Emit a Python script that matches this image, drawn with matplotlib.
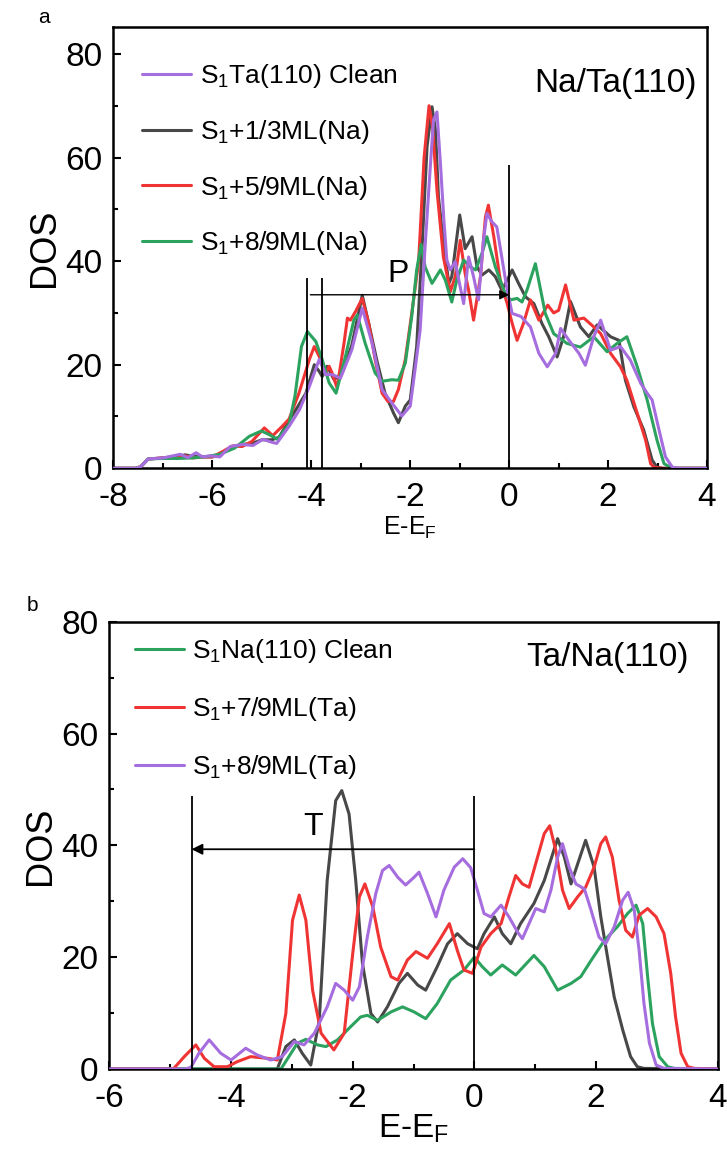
import matplotlib
matplotlib.use("Agg")
import matplotlib.pyplot as plt
from matplotlib.ticker import MultipleLocator

plt.rcParams["font.family"] = ["Liberation Sans", "DejaVu Sans"]
plt.rcParams["mathtext.fontset"] = "custom"
plt.rcParams["mathtext.rm"] = "Liberation Sans"
plt.rcParams["mathtext.it"] = "Liberation Sans:italic"
plt.rcParams["mathtext.default"] = "regular"
plt.rcParams["axes.unicode_minus"] = False

PURPLE = "#a66ddf"
GRAY = "#484848"
RED = "#f03434"
GREEN = "#2ca25f"

# ---- panel a: Na/Ta(110) ----
a_clean_x = [-8, -7.55, -7.45, -7.3, -7.0, -6.65, -6.5, -6.33, -6.2, -6.05, -5.85, -5.64, -5.39,
             -5.18, -4.98, -4.79, -4.70, -4.45, -4.24, -4.04, -3.84, -3.71, -3.58, -3.41, -3.18,
             -2.97, -2.77, -2.57, -2.37, -2.17, -2.0, -1.93, -1.80, -1.70, -1.59, -1.53, -1.46,
             -1.39, -1.32, -1.26, -1.19, -1.09, -0.99, -0.92, -0.82, -0.72, -0.62, -0.52, -0.45,
             -0.35, -0.25, -0.15, -0.04, 0.06, 0.24, 0.43, 0.60, 0.77, 0.94, 1.04, 1.21, 1.41,
             1.54, 1.71, 1.85, 2.05, 2.25, 2.45, 2.66, 2.79, 2.89, 3.03, 3.16, 3.30, 3.45, 4.0]
a_clean_y = [0, 0, 0.3, 1.8, 2.0, 2.7, 2.05, 3.0, 2.2, 2.4, 2.2, 4.2, 4.6, 4.4, 5.6, 5.0, 4.8,
             8.1, 11.3, 15.8, 21, 18.1, 18.1, 17.4, 22.9, 30.9, 24.1, 15.2, 12.6, 10.1, 12, 17.1,
             26.7, 42.8, 58.9, 67.2, 68.8, 58.9, 47.9, 40.2, 38.3, 39.9, 35, 31.8, 40.8, 37, 32.5,
             44, 49.2, 47.6, 46.6, 40.8, 34.4, 29.9, 29.3, 27.3, 22.2, 19.6, 22.2, 27, 24.7, 22.2,
             19.9, 25.4, 28.6, 22.8, 23.5, 20.9, 16.4, 14.5, 13.2, 7.4, 2.2, 0.2, 0, 0]

a_13_x = [-8, -7.55, -7.45, -7.3, -7.0, -6.7, -6.55, -6.4, -6.2, -6.0, -5.8, -5.6, -5.4, -5.2,
          -5.0, -4.8, -4.65, -4.5, -4.3, -4.11, -3.94, -3.84, -3.78, -3.68, -3.54, -3.38, -3.18,
          -2.97, -2.81, -2.67, -2.51, -2.34, -2.24, -2.10, -2.0, -1.87, -1.76, -1.66, -1.56,
          -1.49, -1.43, -1.32, -1.22, -1.16, -1.0, -0.89, -0.75, -0.65, -0.55, -0.41, -0.28,
          -0.15, -0.04, 0.06, 0.19, 0.33, 0.50, 0.66, 0.80, 0.97, 1.10, 1.24, 1.44, 1.61, 1.78,
          2.05, 2.22, 2.35, 2.52, 2.72, 2.89, 2.99, 3.1, 4.0]
a_13_y = [0, 0, 0.3, 1.8, 2.0, 2.3, 2.6, 2.3, 2.2, 2.2, 2.9, 4.2, 4.6, 4.8, 5.5, 5.5, 6.0, 8.5,
          11.5, 14.5, 20, 18.7, 17.7, 19.7, 17.1, 18.4, 23.8, 33.4, 26.7, 20.6, 14.5, 10.7, 8.8,
          12, 13.2, 23.5, 42.8, 62.1, 69.8, 65.3, 52.4, 42.8, 35.7, 37, 48.9, 42.4, 44.7, 38.9,
          37.3, 38.3, 37, 34.4, 36.3, 38.3, 35.7, 33.1, 31.8, 28, 25.4, 21.5, 25.4, 32.2, 27.3,
          25.4, 27.7, 25.4, 24.7, 17, 11.9, 7.4, 1.6, 0.2, 0, 0]

a_59_x = [-8, -7.55, -7.45, -7.3, -7.0, -6.7, -6.55, -6.4, -6.2, -6.0, -5.8, -5.6, -5.4, -5.2,
          -4.95, -4.78, -4.6, -4.45, -4.25, -4.04, -3.94, -3.81, -3.71, -3.64, -3.58, -3.48,
          -3.34, -3.27, -3.21, -3.11, -2.97, -2.84, -2.71, -2.57, -2.45, -2.34, -2.24, -2.10,
          -1.97, -1.83, -1.72, -1.62, -1.55, -1.46, -1.33, -1.19, -1.09, -0.99, -0.89, -0.82,
          -0.72, -0.58, -0.48, -0.42, -0.31, -0.18, -0.04, 0.06, 0.16, 0.29, 0.43, 0.6, 0.78,
          0.9, 1.0, 1.14, 1.31, 1.51, 1.71, 1.85, 2.05, 2.25, 2.38, 2.59, 2.76, 2.86, 2.93, 3.1,
          4.0]
a_59_y = [0, 0, 0.3, 1.8, 2.0, 2.0, 2.4, 2.0, 2.2, 2.2, 3.2, 4.3, 4.2, 5.2, 7.8, 6.3, 8.0, 9.5,
          14.5, 21, 23.5, 21, 18.4, 19.7, 18.4, 15.5, 24.1, 29, 28.6, 30.2, 32.8, 28, 21, 14.5,
          12.9, 12.9, 15.2, 21, 29.9, 40, 60, 70, 66, 53.7, 40.8, 34.1, 37, 44, 37.6, 34.4, 28.6,
          37, 48.5, 50.8, 44.7, 36.3, 31.8, 28, 24.7, 28, 32.5, 28.6, 31.5, 30, 30.5, 35.4, 28.6,
          29, 27.3, 26, 22.2, 19.6, 17, 10.6, 5.4, 0.9, 0.2, 0, 0]

a_89_x = [-8, -7.55, -7.45, -7.3, -7.0, -6.7, -6.4, -6.1, -5.85, -5.55, -5.25, -5.01, -4.85,
          -4.69, -4.45, -4.33, -4.20, -4.08, -3.91, -3.78, -3.64, -3.50, -3.31, -3.14, -3.07,
          -2.91, -2.71, -2.57, -2.37, -2.24, -2.10, -1.97, -1.87, -1.78, -1.70, -1.56, -1.39,
          -1.29, -1.16, -1.06, -0.92, -0.79, -0.68, -0.55, -0.45, -0.28, -0.11, 0.02, 0.16,
          0.26, 0.36, 0.53, 0.73, 0.90, 1.17, 1.44, 1.71, 1.98, 2.18, 2.38, 2.59, 2.79, 2.99,
          3.13, 3.26, 3.4, 4.0]
a_89_y = [0, 0, 0.3, 1.8, 1.9, 1.9, 2.0, 2.3, 2.7, 3.9, 6.2, 7.2, 6.5, 5.6, 8.5, 14, 23.5, 26.4,
          24.5, 21, 16.5, 14.5, 21.6, 28.6, 29.6, 24.1, 18.4, 16.8, 17.1, 17, 20.3, 29.3, 38.3,
          43.2, 38.9, 35.7, 38.3, 36.3, 32.1, 36.3, 40.2, 38.9, 38.3, 41.5, 44.7, 38.9, 34.4,
          32.5, 32.8, 32.1, 34.4, 39.5, 29.9, 26, 24.1, 23.4, 25.4, 22.5, 24.1, 25.4, 19.6, 13.2,
          5.4, 0.9, 0.2, 0, 0]

# ---- panel b: Ta/Na(110) ----
b_clean_x = [-6, -3.18, -3.05, -2.91, -2.77, -2.58, -2.44, -2.25, -2.03, -1.87, -1.76, -1.59,
             -1.37, -1.18, -0.99, -0.80, -0.61, -0.39, -0.17, 0.0, 0.13, 0.27, 0.46, 0.68, 0.98,
             1.15, 1.37, 1.59, 1.75, 1.92, 2.14, 2.35, 2.52, 2.66, 2.77, 2.85, 2.93, 3.04, 3.18,
             3.29, 4.0]
b_clean_y = [0, 0, 2.2, 4.6, 5.3, 4.3, 4.0, 5.2, 7.6, 9.3, 9.6, 8.7, 10.2, 11.1, 10.2, 9.0, 11.7,
             15.9, 17.7, 20, 18.3, 16.8, 18.6, 16.8, 20.3, 18.3, 14.1, 15.3, 16.5, 19.4, 23, 25.4,
             27.8, 29.3, 26, 16.5, 8.1, 2.2, 0.4, 0.1, 0]

b_79_x = [-6, -4.95, -4.77, -4.58, -4.44, -4.28, -4.06, -3.90, -3.68, -3.40, -3.24, -3.10, -2.99,
          -2.88, -2.77, -2.66, -2.52, -2.31, -2.14, -2.00, -1.89, -1.80, -1.67, -1.54, -1.37,
          -1.26, -1.10, -0.96, -0.77, -0.61, -0.41, -0.28, -0.17, -0.03, 0.11, 0.27, 0.44, 0.57,
          0.68, 0.79, 0.90, 1.04, 1.15, 1.24, 1.34, 1.45, 1.56, 1.70, 1.83, 1.97, 2.08, 2.16,
          2.27, 2.38, 2.49, 2.60, 2.71, 2.85, 2.99, 3.12, 3.23, 3.31, 3.40, 3.51, 3.62, 4.0]
b_79_y = [0, 0, 2.2, 4.3, 1.9, 0.4, 0.4, 1.3, 2.2, 1.9, 1.6, 9.9, 26.6, 31.1, 26.6, 14.1, 6.4,
          3.4, 6.4, 20.6, 30.8, 33.1, 29, 21.8, 16.5, 15.9, 19.5, 21, 19.8, 22.4, 26, 21.2, 17.7,
          17.1, 21.8, 24.2, 26, 30.8, 34.6, 33.1, 32.5, 37.9, 42.1, 43.5, 39.1, 32, 28.7, 30.8,
          32.5, 36.1, 40.3, 41.5, 37.9, 30.2, 24.8, 23.6, 27.5, 28.7, 27.2, 24.2, 17.1, 9.3, 2.8,
          0.4, 0.1, 0]

b_89_x = [-6, -4.75, -4.66, -4.53, -4.36, -4.17, -4.0, -3.76, -3.57, -3.35, -3.16, -2.96, -2.80,
          -2.63, -2.42, -2.28, -2.14, -2.0, -1.89, -1.76, -1.62, -1.51, -1.40, -1.26, -1.13,
          -0.99, -0.91, -0.77, -0.63, -0.50, -0.33, -0.19, -0.06, 0.05, 0.16, 0.27, 0.44, 0.57,
          0.71, 0.79, 0.90, 1.01, 1.15, 1.26, 1.37, 1.45, 1.56, 1.67, 1.81, 1.92, 2.05, 2.16,
          2.30, 2.44, 2.53, 2.63, 2.71, 2.79, 2.88, 2.99, 3.12, 4.0]
b_89_y = [0, 0, 0.3, 2.8, 5.2, 2.8, 1.6, 3.7, 2.5, 1.6, 2.2, 4.9, 4.3, 6.4, 11.1, 15.3, 14.1,
          12.3, 14.7, 23.6, 31.4, 35.5, 36.4, 34.3, 32.9, 34.3, 35.2, 31.4, 27.2, 32, 36.1, 37.6,
          36.0, 32, 27.8, 27.2, 29.3, 27.2, 24.5, 23.3, 26, 28.7, 28.1, 32, 37.9, 40.3, 36.1,
          33.1, 32.2, 28.4, 23.6, 22.4, 25.4, 30.2, 31.6, 28.4, 21.2, 11.7, 4.6, 0.7, 0.1, 0]

b_dark_x = [-6, -3.24, -3.10, -2.96, -2.83, -2.69, -2.55, -2.42, -2.28, -2.18, -2.06, -1.95,
            -1.84, -1.70, -1.59, -1.43, -1.24, -1.10, -0.93, -0.80, -0.61, -0.44, -0.28, -0.11,
            0.05, 0.16, 0.33, 0.46, 0.60, 0.76, 0.98, 1.15, 1.29, 1.37, 1.48, 1.59, 1.70, 1.83,
            1.97, 2.08, 2.19, 2.30, 2.44, 2.57, 2.68, 2.79, 4.0]
b_dark_y = [0, 0, 4.0, 5.2, 2.8, 0.7, 8.7, 33.7, 48, 49.8, 45.6, 33.7, 18.9, 9.9, 8.4, 11.1,
            15.3, 17.1, 15, 14.1, 18.3, 22.4, 24.2, 22.4, 21.5, 24.2, 27.2, 24.2, 22.4, 26, 29.6,
            33.7, 38.5, 41.2, 37.9, 33.1, 36.7, 40.9, 36.1, 27.2, 20, 12.9, 7, 2.2, 0.4, 0.1, 0]

# guide lines
a_guides = [-4.08, -3.79]
a_guide_top = 36.7
a_fermi_top = 58.5
a_arrow = (-4.02, 0.0, 33.5)
b_guides = [-4.65, 0.0]
b_guide_top = 48.9
b_arrow = (0.0, -4.65, 39.3)

fig = plt.figure(figsize=(7.27, 11.58), dpi=100)
ax1 = fig.add_axes([0.1561, 0.5956, 0.8164, 0.3811])
ax2 = fig.add_axes([0.1506, 0.0769, 0.8364, 0.3862])

lw = 2.2
style = dict(lw=lw, solid_joinstyle="round", solid_capstyle="round")
ax1.plot(a_clean_x, a_clean_y, color=PURPLE, label="S$_1$Ta(110) Clean", zorder=3, **style)
ax1.plot(a_13_x, a_13_y, color=GRAY, label="S$_1$+1/3ML(Na)", zorder=2, **style)
ax1.plot(a_59_x, a_59_y, color=RED, label="S$_1$+5/9ML(Na)", zorder=2, **style)
ax1.plot(a_89_x, a_89_y, color=GREEN, label="S$_1$+8/9ML(Na)", zorder=2, **style)
ax1.vlines(a_guides, 0, a_guide_top, color="k", lw=1.3, zorder=4)
ax1.vlines([0], 0, a_fermi_top, color="k", lw=1.3, zorder=4)
ax1.annotate("", xy=(a_arrow[1], a_arrow[2]), xytext=(a_arrow[0], a_arrow[2]),
             arrowprops=dict(arrowstyle="-|>", color="k", lw=1.0, mutation_scale=14,
                             shrinkA=0, shrinkB=0), zorder=5)
ax1.text(-2.24, 37.5, "P", fontsize=23, ha="center", va="center")
ax1.text(0.983, 0.871, "Na/Ta(110)", transform=ax1.transAxes, fontsize=24,
         ha="right", va="center")
ax1.set_xlim(-8, 4)
ax1.set_ylim(0, 85.2)
ax1.set_xlabel("E-E$_F$", fontsize=18, labelpad=1)

ax2.plot(b_dark_x, b_dark_y, color=GRAY, zorder=2, **style)
ax2.plot(b_clean_x, b_clean_y, color=GREEN, label="S$_1$Na(110) Clean", zorder=2, **style)
ax2.plot(b_79_x, b_79_y, color=RED, label="S$_1$+7/9ML(Ta)", zorder=2, **style)
ax2.plot(b_89_x, b_89_y, color=PURPLE, label="S$_1$+8/9ML(Ta)", zorder=3, **style)
ax2.vlines(b_guides, 0, b_guide_top, color="k", lw=1.3, zorder=4)
ax2.annotate("", xy=(b_arrow[1], b_arrow[2]), xytext=(b_arrow[0], b_arrow[2]),
             arrowprops=dict(arrowstyle="-|>", color="k", lw=1.3, mutation_scale=16,
                             shrinkA=0, shrinkB=0), zorder=5)
ax2.text(-2.66, 43.2, "T", fontsize=23, ha="center", va="center")
ax2.text(0.953, 0.919, "Ta/Na(110)", transform=ax2.transAxes, fontsize=24,
         ha="right", va="center")
ax2.set_xlim(-6, 4)
ax2.set_ylim(0, 80)
ax2.set_xlabel("E-E$_F$", fontsize=24, labelpad=-1)

for ax in (ax1, ax2):
    ax.xaxis.set_major_locator(MultipleLocator(2))
    ax.xaxis.set_minor_locator(MultipleLocator(1))
    ax.yaxis.set_major_locator(MultipleLocator(20))
    ax.yaxis.set_minor_locator(MultipleLocator(10))
    ax.tick_params(which="both", direction="in", top=False, right=False, width=1.5)
    ax.tick_params(which="major", length=6, labelsize=24)
    ax.tick_params(axis="x", which="major", pad=10)
    ax.tick_params(axis="y", which="major", pad=8)
    ax.tick_params(which="minor", length=3.5)
    for s in ax.spines.values():
        s.set_linewidth(1.8)
    ax.set_ylabel("DOS", fontsize=26, labelpad=2)

ax1.legend(loc="upper left", bbox_to_anchor=(0.048, 0.92), frameon=False, fontsize=19,
           handlelength=1.86, handletextpad=0.35, labelspacing=1.05, borderpad=0,
           borderaxespad=0)
ax2.legend(loc="upper left", bbox_to_anchor=(0.042, 0.965), frameon=False, fontsize=19,
           handlelength=1.86, handletextpad=0.3, labelspacing=1.13, borderpad=0,
           borderaxespad=0)

fig.text(0.0605, 0.9845, "a", fontsize=15, ha="center", va="center")
fig.text(0.045, 0.4767, "b", fontsize=15, ha="center", va="center")

fig.savefig("out.png", dpi=100)
